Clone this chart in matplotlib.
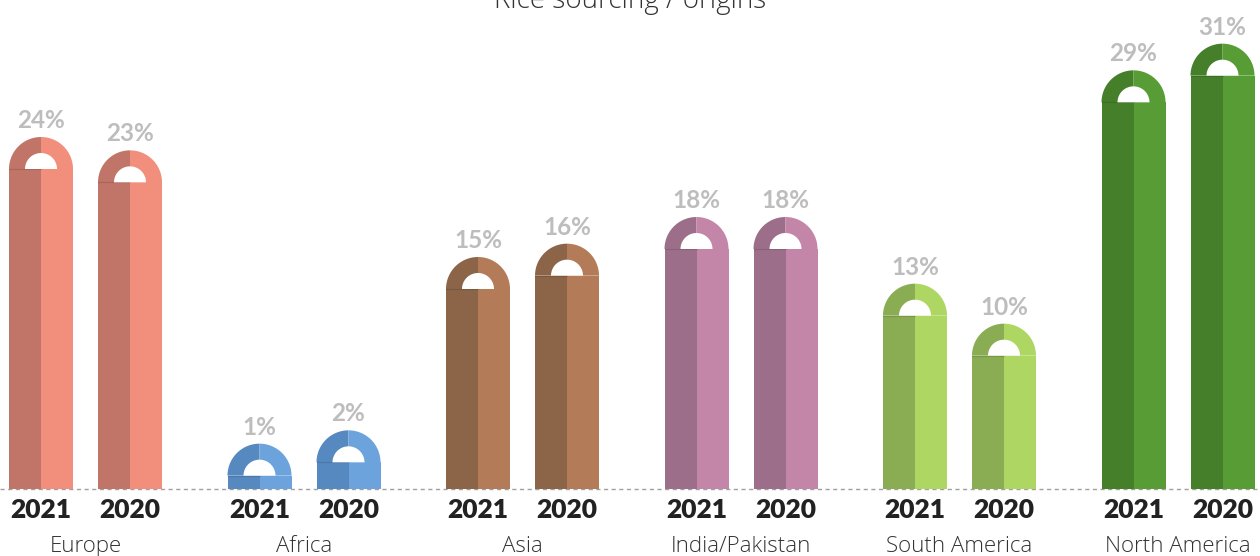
import numpy as np
import matplotlib
matplotlib.use("Agg")
import matplotlib.pyplot as plt
from matplotlib.patches import Rectangle, Polygon
from matplotlib import transforms

# ---- data ----
title = "Rice sourcing / origins"
categories = ["Europe", "Africa", "Asia", "India/Pakistan", "South America", "North America"]
years = ["2021", "2020"]
values_2021 = [24, 1, 15, 18, 13, 29]
values_2020 = [23, 2, 16, 18, 10, 31]
dark_colors = ["#C17468", "#5689BF", "#8C6448", "#9C6E8A", "#8AAC52", "#457F2A"]
light_colors = ["#F28E7C", "#6CA3DC", "#B37B58", "#C486A8", "#AED663", "#579C34"]

W_PX, H_PX, DPI = 1260, 556, 100
fig = plt.figure(figsize=(W_PX / DPI, H_PX / DPI), dpi=DPI)
ax = fig.add_axes([0, 0, 1, 1])
ax.axis("off")

px_per_x = 218.5
px_per_y = 13.333
ax.set_xlim(-85.5 / px_per_x, (W_PX - 85.5) / px_per_x)
ax.set_ylim(-67 / px_per_y, (H_PX - 67) / px_per_y)

bar_half_px = 32
rx = bar_half_px / px_per_x
ry = bar_half_px / px_per_y
offset = 44.5 / px_per_x

# baseline
ax.axhline(0, color="#A0A0A0", lw=1, ls=(0, (3, 2.5)), zorder=1)

lab_font = ["Lato", "DejaVu Sans"]
thin_font = ["Open Sans", "DejaVu Sans"]

def draw_bar(xc, v, dark, light):
    ax.add_patch(Rectangle((xc - rx, 0), rx, v, facecolor=dark, edgecolor="none", zorder=2))
    ax.add_patch(Rectangle((xc, 0), rx, v, facecolor=light, edgecolor="none", zorder=2))
    t1 = np.linspace(np.pi / 2, np.pi, 60)
    left = np.column_stack([xc + rx * np.cos(t1), v + ry * np.sin(t1)])
    left = np.vstack([[xc, v], left])
    ax.add_patch(Polygon(left, closed=True, facecolor=dark, edgecolor="none", zorder=2))
    t2 = np.linspace(0, np.pi / 2, 60)
    right = np.column_stack([xc + rx * np.cos(t2), v + ry * np.sin(t2)])
    right = np.vstack([[xc, v], right])
    ax.add_patch(Polygon(right, closed=True, facecolor=light, edgecolor="none", zorder=2))
    # thin seam line on dark half
    ax.plot([xc - rx, xc], [v, v], color="black", alpha=0.12, lw=0.8, zorder=3)
    # white semicircle
    t3 = np.linspace(0, np.pi, 80)
    hole = np.column_stack([xc + 0.5 * rx * np.cos(t3), v + 0.5 * ry * np.sin(t3)])
    ax.add_patch(Polygon(hole, closed=True, facecolor="white", edgecolor="none", zorder=4))
    # value label
    ax.annotate(f"{v}%", (xc, v + ry), xytext=(0, 3.5), textcoords="offset points",
                ha="center", va="bottom", fontsize=17.5, fontweight="bold",
                color="#BDBDBD", family=lab_font, zorder=5)

blend = transforms.blended_transform_factory(ax.transData, ax.transAxes)

for g, cat in enumerate(categories):
    for j, (yr, vals) in enumerate(zip(years, [values_2021, values_2020])):
        xc = g + (-offset if j == 0 else offset)
        draw_bar(xc, vals[g], dark_colors[g], light_colors[g])
        ax.text(xc, 38 / H_PX, yr, transform=blend, ha="center", va="baseline",
                fontsize=19, fontweight="heavy", color="#222222", family=lab_font)
    ax.text(g, 4 / H_PX, cat, transform=blend, ha="center", va="baseline",
            fontsize=16, fontweight="light", color="#333333", family=thin_font)

fig.text(0.5, 1 - 8 / H_PX, title, ha="center", va="baseline", fontsize=20,
         fontweight="light", color="#333333", family=thin_font)

fig.savefig("out.png", dpi=DPI)
